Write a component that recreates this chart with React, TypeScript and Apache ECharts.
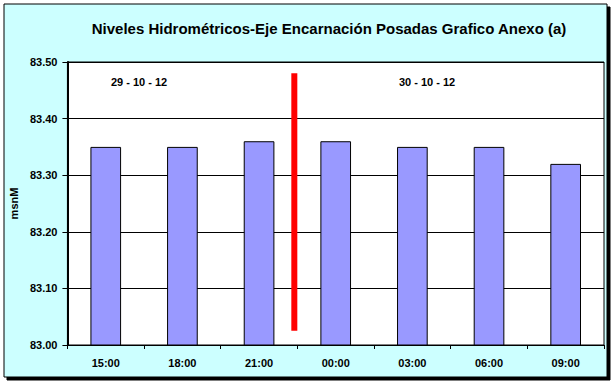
import React, { useEffect, useRef } from "react";
import * as echarts from "echarts";

const categories = ["15:00", "18:00", "21:00", "00:00", "03:00", "06:00", "09:00"];
const levels = [83.35, 83.35, 83.36, 83.36, 83.35, 83.35, 83.32];
const dividerX = 2.96;
const dividerRange = [83.025, 83.48];
const dayLabels = ["29 - 10 - 12", "30 - 10 - 12"];
const titleText = "Niveles Hidrométricos-Eje Encarnación Posadas Grafico Anexo (a)";

export default function App() {
  const ref = useRef<HTMLDivElement>(null);
  useEffect(() => {
    document.body.style.margin = "0";
    const chart = echarts.init(ref.current!, null, { renderer: "svg" });
    const font = "Liberation Sans, Arial, sans-serif";
    chart.setOption({
      animation: false,
      backgroundColor: "#ffffff",
      graphic: [
        {
          type: "rect",
          shape: { x: 4, y: 4, width: 603, height: 373 },
          style: { fill: "#ccffff", stroke: "#000", lineWidth: 1, shadowColor: "#000", shadowOffsetX: 3, shadowOffsetY: 3, shadowBlur: 0 },
          z: -10,
        },
        {
          type: "text",
          x: 139,
          y: 82,
          style: { text: dayLabels[0], font: "bold 11px " + font, fill: "#000", textAlign: "center", textVerticalAlign: "middle" },
          z: 10,
        },
        {
          type: "text",
          x: 427,
          y: 82,
          style: { text: dayLabels[1], font: "bold 11px " + font, fill: "#000", textAlign: "center", textVerticalAlign: "middle" },
          z: 10,
        },
      ],
      title: {
        text: titleText,
        left: 324,
        top: 16,
        textAlign: "center",
        textStyle: { fontFamily: font, fontSize: 15, fontWeight: "bold", color: "#000" },
      },
      grid: {
        left: 65,
        top: 62,
        right: 11,
        bottom: 40,
        show: true,
        backgroundColor: "#ffffff",
        borderColor: "#000",
        borderWidth: 1,
      },
      xAxis: [
        {
          type: "category",
          data: categories,
          axisLine: { lineStyle: { color: "#000", width: 1 } },
          axisTick: { show: true, length: 4, lineStyle: { color: "#000" } },
          axisLabel: { fontFamily: font, fontSize: 11, fontWeight: "bold", color: "#000", margin: 12 },
        },
        { type: "value", min: 0, max: 7, show: false },
      ],
      yAxis: {
        type: "value",
        min: 83.0,
        max: 83.5,
        interval: 0.1,
        name: "msnM",
        nameLocation: "middle",
        nameGap: 48,
        nameTextStyle: { fontFamily: font, fontSize: 11, fontWeight: "bold", color: "#000" },
        axisLine: { show: true, lineStyle: { color: "#000", width: 2 } },
        axisTick: { show: true, length: 5, lineStyle: { color: "#000" } },
        axisLabel: { fontFamily: font, fontSize: 11, fontWeight: "bold", color: "#000", margin: 10, formatter: (v: number) => v.toFixed(2) },
        splitLine: { show: true, lineStyle: { color: "#000", width: 1 } },
      },
      series: [
        {
          type: "bar",
          data: levels,
          barWidth: "40%",
          itemStyle: { color: "#9999ff", borderColor: "#000", borderWidth: 1 },
        },
        {
          type: "line",
          xAxisIndex: 1,
          data: [
            [dividerX, dividerRange[0]],
            [dividerX, dividerRange[1]],
          ],
          symbol: "none",
          lineStyle: { color: "#ff0000", width: 6 },
          z: 5,
        },
      ],
    });
    return () => chart.dispose();
  }, []);
  return <div ref={ref} style={{ width: 615, height: 385 }} />;
}
